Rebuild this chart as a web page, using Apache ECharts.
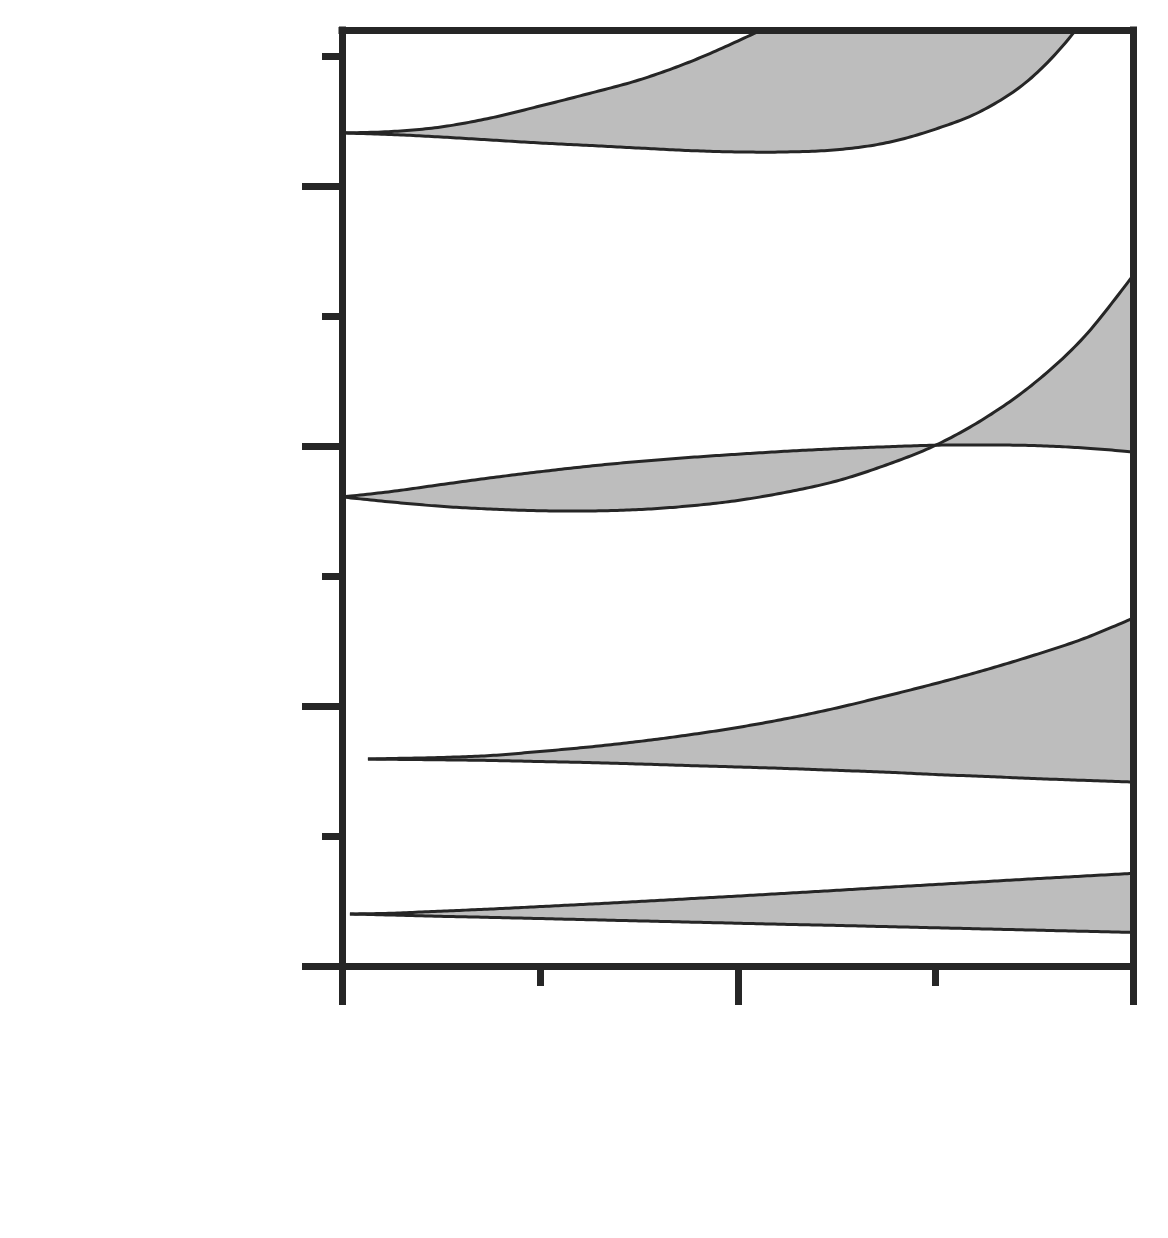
<!DOCTYPE html>
<html><head><meta charset="utf-8">
<script src="https://cdn.jsdelivr.net/npm/echarts@6/dist/echarts.min.js"></script>
<style>html,body{margin:0;padding:0;background:#fff}#c{width:1168px;height:1238px}</style>
</head><body><div id="c"></div>
<script>
// Axis ticks (data units)
const xTicksMajor = [0, 2, 4];
const xTicksMinor = [1, 3];
const yTicksMajor = [0, 2, 4, 6];
const yTicksMinor = [1, 3, 5, 7];
const xMin = 0, xMax = 4, yMin = 0, yMax = 7.2;

// Band 1 (bottom)
const band1X     = [0.04, 0.25, 0.5, 0.75, 1, 1.25, 1.5, 1.75, 2, 2.25, 2.5, 2.75, 3, 3.25, 3.5, 3.75, 4];
const band1Upper = [0.4, 0.406, 0.422, 0.438, 0.457, 0.476, 0.496, 0.517, 0.538, 0.56, 0.582, 0.605, 0.627, 0.649, 0.671, 0.692, 0.713];
const band1Lower = [0.4, 0.392, 0.382, 0.374, 0.365, 0.356, 0.347, 0.338, 0.329, 0.32, 0.312, 0.303, 0.294, 0.285, 0.276, 0.267, 0.258];

// Band 2
const band2X     = [0.131, 0.25, 0.5, 0.75, 1, 1.25, 1.5, 1.75, 2, 2.25, 2.5, 2.75, 3, 3.25, 3.5, 3.75, 4];
const band2Upper = [1.592, 1.596, 1.604, 1.619, 1.65, 1.685, 1.727, 1.777, 1.835, 1.904, 1.985, 2.077, 2.173, 2.277, 2.392, 2.519, 2.677];
const band2Lower = [1.592, 1.59, 1.586, 1.581, 1.573, 1.565, 1.554, 1.542, 1.531, 1.519, 1.505, 1.491, 1.473, 1.458, 1.442, 1.428, 1.415];

// Band 3 (curves cross)
const band3X     = [0, 0.25, 0.5, 0.75, 1, 1.25, 1.5, 1.75, 2, 2.25, 2.5, 2.75, 3, 3.25, 3.5, 3.75, 4];
const band3Upper = [3.608, 3.65, 3.703, 3.755, 3.802, 3.845, 3.881, 3.911, 3.937, 3.96, 3.979, 3.994, 4.006, 4.008, 4.003, 3.985, 3.954];
const band3Lower = [3.608, 3.569, 3.536, 3.515, 3.502, 3.5, 3.511, 3.538, 3.581, 3.646, 3.731, 3.854, 4.006, 4.215, 4.485, 4.838, 5.315];

// Band 4 (top, runs past the frame)
const band4X     = [0, 0.25, 0.5, 0.75, 1, 1.25, 1.5, 1.75, 2, 2.25, 2.5, 2.75, 3, 3.25, 3.5, 3.75, 4];
const band4Upper = [6.408, 6.419, 6.454, 6.523, 6.615, 6.712, 6.815, 6.95, 7.115, 7.3, 7.51, 7.74, 7.98, 8.23, 8.48, 8.73, 8.98];
const band4Lower = [6.408, 6.396, 6.377, 6.354, 6.331, 6.312, 6.292, 6.273, 6.262, 6.262, 6.279, 6.332, 6.438, 6.592, 6.854, 7.285, 7.9];

const INK = '#262626';
const FILL = '#bdbdbd';
const AXW = 7;

const bands = [
  {x: band1X, upper: band1Upper, lower: band1Lower},
  {x: band2X, upper: band2Upper, lower: band2Lower},
  {x: band3X, upper: band3Upper, lower: band3Lower},
  {x: band4X, upper: band4Upper, lower: band4Lower}
];

// Smooth a pixel polyline with Catmull-Rom cubic segments (sampled)
function smoothPts(pts) {
  const out = [pts[0]];
  const n = pts.length;
  const STEPS = 16;
  for (let i = 0; i < n - 1; i++) {
    const p0 = pts[Math.max(i - 1, 0)], p1 = pts[i], p2 = pts[i + 1], p3 = pts[Math.min(i + 2, n - 1)];
    const c1 = [p1[0] + (p2[0] - p0[0]) / 6, p1[1] + (p2[1] - p0[1]) / 6];
    const c2 = [p2[0] - (p3[0] - p1[0]) / 6, p2[1] - (p3[1] - p1[1]) / 6];
    for (let s = 1; s <= STEPS; s++) {
      const t = s / STEPS, u = 1 - t;
      const a = u * u * u, b = 3 * u * u * t, c = 3 * u * t * t, d = t * t * t;
      out.push([a * p1[0] + b * c1[0] + c * c2[0] + d * p2[0],
                a * p1[1] + b * c1[1] + c * c2[1] + d * p2[1]]);
    }
  }
  return out;
}

function renderBand(params, api) {
  const b = bands[params.dataIndex];
  const up = smoothPts(b.x.map((x, j) => api.coord([x, b.upper[j]])));
  const lo = smoothPts(b.x.map((x, j) => api.coord([x, b.lower[j]])));
  const cs = params.coordSys;
  return {
    type: 'group',
    clipPath: {type: 'rect', shape: {x: cs.x, y: cs.y, width: cs.width, height: cs.height}},
    children: [
      {type: 'polygon', shape: {points: up.concat(lo.slice().reverse())},
       style: {fill: FILL, stroke: null}},
      {type: 'polyline', shape: {points: up},
       style: {fill: null, stroke: INK, lineWidth: 3, lineJoin: 'round'}},
      {type: 'polyline', shape: {points: lo},
       style: {fill: null, stroke: INK, lineWidth: 3, lineJoin: 'round'}}
    ]
  };
}

function axisBase(extra) {
  return Object.assign({
    type: 'value', z: 10, silent: true,
    axisLabel: {show: false}, splitLine: {show: false},
    axisLine: {show: false, onZero: false, lineStyle: {color: INK, width: AXW, cap: 'square'}},
    axisTick: {show: false}
  }, extra);
}

const option = {
  animation: false,
  backgroundColor: '#fff',
  grid: {left: 342, top: 30, right: 34.5, bottom: 272, containLabel: false},
  xAxis: [
    axisBase({min: xMin, max: xMax, position: 'bottom',
      axisLine: {show: true, onZero: false, lineStyle: {color: INK, width: AXW, cap: 'square'}},
      axisTick: {show: true, customValues: xTicksMajor, length: 39, inside: false, lineStyle: {color: INK, width: AXW}}}),
    axisBase({min: xMin, max: xMax, position: 'bottom',
      axisTick: {show: true, customValues: xTicksMinor, length: 20, inside: false, lineStyle: {color: INK, width: AXW}}}),
    axisBase({min: xMin, max: xMax, position: 'top',
      axisLine: {show: true, onZero: false, lineStyle: {color: INK, width: AXW, cap: 'square'}}})
  ],
  yAxis: [
    axisBase({min: yMin, max: yMax, position: 'left',
      axisLine: {show: true, onZero: false, lineStyle: {color: INK, width: AXW, cap: 'square'}},
      axisTick: {show: true, customValues: yTicksMajor, length: 40, inside: false, lineStyle: {color: INK, width: AXW}}}),
    axisBase({min: yMin, max: yMax, position: 'left',
      axisTick: {show: true, customValues: yTicksMinor, length: 20, inside: false, lineStyle: {color: INK, width: AXW}}}),
    axisBase({min: yMin, max: yMax, position: 'right',
      axisLine: {show: true, onZero: false, lineStyle: {color: INK, width: AXW, cap: 'square'}}})
  ],
  series: [{
    type: 'custom', coordinateSystem: 'cartesian2d', silent: true, clip: true, z: 2,
    renderItem: renderBand,
    data: bands.map(b => [b.x[0], b.lower[0]])
  }]
};

const chart = echarts.init(document.getElementById('c'), null, {renderer: 'canvas'});
chart.setOption(option);
</script>
</body></html>
